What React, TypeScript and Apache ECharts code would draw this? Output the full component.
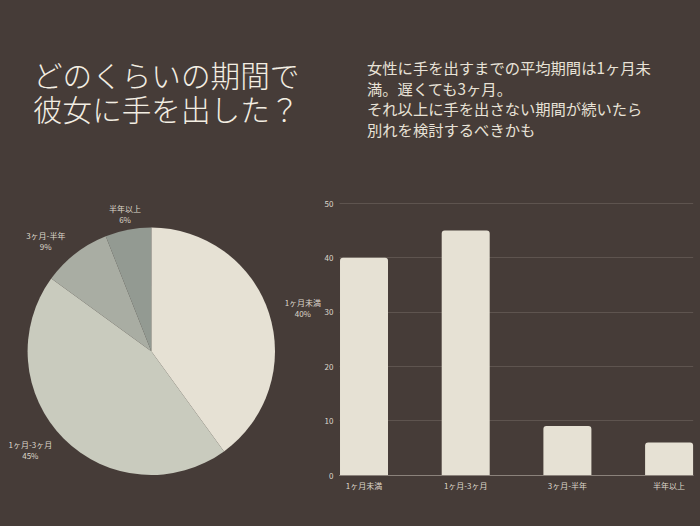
import React, { useEffect, useRef } from 'react';
import * as echarts from 'echarts';

const categories = ['1ヶ月未満', '1ヶ月-3ヶ月', '3ヶ月-半年', '半年以上'];
const shares = [40, 45, 9, 6];
const sliceColors = ['#e6e1d4', '#c9cbbe', '#a9ada3', '#939a92'];
const yTicks = { min: 0, max: 50, interval: 10 };
const titleText = 'どのくらいの期間で\n彼女に手を出した？';
const noteText =
  '女性に手を出すまでの平均期間は1ヶ月未\n満。遅くても3ヶ月。\nそれ以上に手を出さない期間が続いたら\n別れを検討するべきかも';

const FONT = "'Noto Sans CJK JP', 'Noto Sans', sans-serif";
const BG = '#463c38';

const App: React.FC = () => {
  const chartRef = useRef<HTMLDivElement>(null);

  useEffect(() => {
    document.body.style.margin = '0';
    if (!chartRef.current) return;
    const chart = echarts.init(chartRef.current, undefined, { renderer: 'svg' });

    const labelColor = '#ddd7cb';
    const idx = categories.map((_, i) => i);

    const options: echarts.EChartsOption = {
      animation: false,
      backgroundColor: BG,
      textStyle: { fontFamily: FONT },
      title: [
        {
          text: titleText,
          left: 33,
          top: 58,
          padding: 0,
          textStyle: {
            color: '#f3eee3',
            fontSize: 29.6,
            fontWeight: 300,
            lineHeight: 33.5,
            fontFamily: FONT
          }
        },
        {
          text: noteText,
          left: 367,
          top: 56.5,
          padding: 0,
          textStyle: {
            color: '#e8e2d7',
            fontSize: 15.3,
            fontWeight: 'normal',
            lineHeight: 20.7,
            fontFamily: FONT
          }
        }
      ],
      grid: { left: 339.5, top: 203.3, width: 353.7, height: 271.7 },
      xAxis: {
        type: 'value',
        // 棒の中心を 0..3 に置き、両端の棒が軸の端に接するように
        min: -0.241,
        max: 3.237,
        splitLine: { show: false },
        axisTick: { show: false },
        axisLine: { show: true, onZero: false, lineStyle: { color: '#8b827b', width: 1 } },
        axisLabel: {
          customValues: idx,
          formatter: (v: number) => categories[Math.round(v)] ?? '',
          color: labelColor,
          fontSize: 8,
          margin: 6,
          fontFamily: FONT
        }
      },
      yAxis: {
        type: 'value',
        ...yTicks,
        axisLine: { show: false },
        axisTick: { show: false },
        axisLabel: { color: labelColor, fontSize: 8, margin: 6, fontFamily: FONT },
        splitLine: { lineStyle: { color: '#5e544f', width: 1 } }
      },
      series: [
        {
          type: 'pie',
          center: [151.3, 351.3],
          radius: 123.7,
          startAngle: 90,
          clockwise: true,
          avoidLabelOverlap: false,
          label: {
            position: 'outside',
            distanceToLabelLine: 0,
            formatter: (p: any) => `{a|${p.name}}\n{a|${p.percent}%}`,
            rich: {
              a: { color: labelColor, fontSize: 8, lineHeight: 11, align: 'center', fontFamily: FONT }
            }
          },
          labelLine: { show: false, length: 16.5, length2: 0 },
          itemStyle: { borderWidth: 0 },
          data: categories.map((name, i) => ({
            name,
            value: shares[i],
            itemStyle: { color: sliceColors[i] },
            ...(i === 3 ? { label: { distanceToLabelLine: -16 } } : {})
          }))
        },
        {
          type: 'bar',
          barWidth: 48,
          data: shares.map((v, i) => [idx[i], v]),
          itemStyle: { color: '#e6e1d4', borderRadius: [3, 3, 0, 0] }
        }
      ]
    };

    chart.setOption(options);

    return () => {
      chart.dispose();
    };
  }, []);

  return <div ref={chartRef} style={{ width: 700, height: 526 }} />;
};

export default App;
